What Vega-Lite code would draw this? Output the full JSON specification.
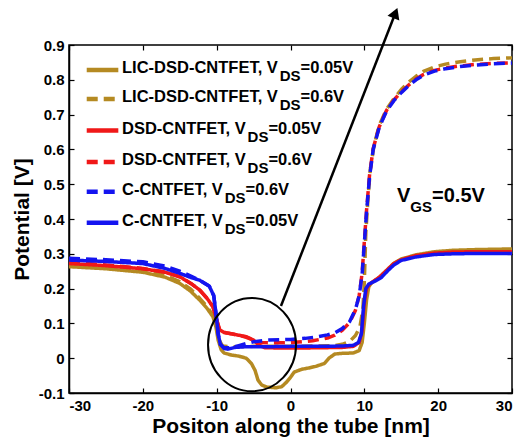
{
  "$schema": "https://vega.github.io/schema/vega-lite/v6.json",
  "width": 443,
  "height": 348,
  "autosize": {"type": "none"},
  "padding": {"left": 69, "top": 45, "right": 14, "bottom": 47},
  "background": "white",
  "config": {
    "font": "Liberation Sans",
    "view": {"stroke": "black", "strokeWidth": 1.5},
    "axis": {
      "labelFont": "Liberation Sans", "labelFontWeight": "bold", "labelFontSize": 15, "labelColor": "black",
      "domainColor": "black", "domainWidth": 1.5, "tickColor": "black", "tickWidth": 1.2, "tickSize": -5,
      "grid": false, "titleFont": "Liberation Sans", "titleFontWeight": "bold", "titleFontSize": 21, "titleColor": "black"
    }
  },
  "datasets": {
    "curves": [
      {"s":"a","device":"LIC-DSD-CNTFET","vds":"0.05","x":-30,"y":0.263},
      {"s":"a","device":"LIC-DSD-CNTFET","vds":"0.05","x":-25,"y":0.257},
      {"s":"a","device":"LIC-DSD-CNTFET","vds":"0.05","x":-20,"y":0.247},
      {"s":"a","device":"LIC-DSD-CNTFET","vds":"0.05","x":-17,"y":0.233},
      {"s":"a","device":"LIC-DSD-CNTFET","vds":"0.05","x":-15,"y":0.215},
      {"s":"a","device":"LIC-DSD-CNTFET","vds":"0.05","x":-13.5,"y":0.192},
      {"s":"a","device":"LIC-DSD-CNTFET","vds":"0.05","x":-12.3,"y":0.167},
      {"s":"a","device":"LIC-DSD-CNTFET","vds":"0.05","x":-11.3,"y":0.143},
      {"s":"a","device":"LIC-DSD-CNTFET","vds":"0.05","x":-10.5,"y":0.119},
      {"s":"a","device":"LIC-DSD-CNTFET","vds":"0.05","x":-10.1,"y":0.09},
      {"s":"a","device":"LIC-DSD-CNTFET","vds":"0.05","x":-9.8,"y":0.052},
      {"s":"a","device":"LIC-DSD-CNTFET","vds":"0.05","x":-9.4,"y":0.025},
      {"s":"a","device":"LIC-DSD-CNTFET","vds":"0.05","x":-9,"y":0.015},
      {"s":"a","device":"LIC-DSD-CNTFET","vds":"0.05","x":-8,"y":0.009},
      {"s":"a","device":"LIC-DSD-CNTFET","vds":"0.05","x":-7,"y":0.006},
      {"s":"a","device":"LIC-DSD-CNTFET","vds":"0.05","x":-6,"y":0.0},
      {"s":"a","device":"LIC-DSD-CNTFET","vds":"0.05","x":-5.3,"y":-0.015},
      {"s":"a","device":"LIC-DSD-CNTFET","vds":"0.05","x":-4.8,"y":-0.035},
      {"s":"a","device":"LIC-DSD-CNTFET","vds":"0.05","x":-4.4,"y":-0.063},
      {"s":"a","device":"LIC-DSD-CNTFET","vds":"0.05","x":-3.9,"y":-0.077},
      {"s":"a","device":"LIC-DSD-CNTFET","vds":"0.05","x":-3.2,"y":-0.083},
      {"s":"a","device":"LIC-DSD-CNTFET","vds":"0.05","x":-2,"y":-0.085},
      {"s":"a","device":"LIC-DSD-CNTFET","vds":"0.05","x":-1.2,"y":-0.082},
      {"s":"a","device":"LIC-DSD-CNTFET","vds":"0.05","x":-0.5,"y":-0.068},
      {"s":"a","device":"LIC-DSD-CNTFET","vds":"0.05","x":0,"y":-0.055},
      {"s":"a","device":"LIC-DSD-CNTFET","vds":"0.05","x":0.5,"y":-0.04},
      {"s":"a","device":"LIC-DSD-CNTFET","vds":"0.05","x":1.5,"y":-0.032},
      {"s":"a","device":"LIC-DSD-CNTFET","vds":"0.05","x":2.5,"y":-0.028},
      {"s":"a","device":"LIC-DSD-CNTFET","vds":"0.05","x":3.5,"y":-0.023},
      {"s":"a","device":"LIC-DSD-CNTFET","vds":"0.05","x":4.6,"y":-0.015},
      {"s":"a","device":"LIC-DSD-CNTFET","vds":"0.05","x":5.2,"y":0.0},
      {"s":"a","device":"LIC-DSD-CNTFET","vds":"0.05","x":6,"y":0.012},
      {"s":"a","device":"LIC-DSD-CNTFET","vds":"0.05","x":7,"y":0.014},
      {"s":"a","device":"LIC-DSD-CNTFET","vds":"0.05","x":8.5,"y":0.015},
      {"s":"a","device":"LIC-DSD-CNTFET","vds":"0.05","x":9.3,"y":0.022},
      {"s":"a","device":"LIC-DSD-CNTFET","vds":"0.05","x":9.7,"y":0.045},
      {"s":"a","device":"LIC-DSD-CNTFET","vds":"0.05","x":10,"y":0.1},
      {"s":"a","device":"LIC-DSD-CNTFET","vds":"0.05","x":10.3,"y":0.167},
      {"s":"a","device":"LIC-DSD-CNTFET","vds":"0.05","x":10.6,"y":0.205},
      {"s":"a","device":"LIC-DSD-CNTFET","vds":"0.05","x":11,"y":0.217},
      {"s":"a","device":"LIC-DSD-CNTFET","vds":"0.05","x":12,"y":0.232},
      {"s":"a","device":"LIC-DSD-CNTFET","vds":"0.05","x":13,"y":0.252},
      {"s":"a","device":"LIC-DSD-CNTFET","vds":"0.05","x":14,"y":0.273},
      {"s":"a","device":"LIC-DSD-CNTFET","vds":"0.05","x":15,"y":0.285},
      {"s":"a","device":"LIC-DSD-CNTFET","vds":"0.05","x":17,"y":0.297},
      {"s":"a","device":"LIC-DSD-CNTFET","vds":"0.05","x":19.5,"y":0.306},
      {"s":"a","device":"LIC-DSD-CNTFET","vds":"0.05","x":22,"y":0.31},
      {"s":"a","device":"LIC-DSD-CNTFET","vds":"0.05","x":25,"y":0.312},
      {"s":"a","device":"LIC-DSD-CNTFET","vds":"0.05","x":30,"y":0.314},

      {"s":"b","device":"LIC-DSD-CNTFET","vds":"0.6","x":-30,"y":0.268},
      {"s":"b","device":"LIC-DSD-CNTFET","vds":"0.6","x":-25,"y":0.262},
      {"s":"b","device":"LIC-DSD-CNTFET","vds":"0.6","x":-20,"y":0.252},
      {"s":"b","device":"LIC-DSD-CNTFET","vds":"0.6","x":-17,"y":0.238},
      {"s":"b","device":"LIC-DSD-CNTFET","vds":"0.6","x":-15,"y":0.22},
      {"s":"b","device":"LIC-DSD-CNTFET","vds":"0.6","x":-13.5,"y":0.198},
      {"s":"b","device":"LIC-DSD-CNTFET","vds":"0.6","x":-12.3,"y":0.172},
      {"s":"b","device":"LIC-DSD-CNTFET","vds":"0.6","x":-11.3,"y":0.148},
      {"s":"b","device":"LIC-DSD-CNTFET","vds":"0.6","x":-10.5,"y":0.123},
      {"s":"b","device":"LIC-DSD-CNTFET","vds":"0.6","x":-10,"y":0.1},
      {"s":"b","device":"LIC-DSD-CNTFET","vds":"0.6","x":-9.6,"y":0.05},
      {"s":"b","device":"LIC-DSD-CNTFET","vds":"0.6","x":-9.2,"y":0.035},
      {"s":"b","device":"LIC-DSD-CNTFET","vds":"0.6","x":-8,"y":0.033},
      {"s":"b","device":"LIC-DSD-CNTFET","vds":"0.6","x":-5,"y":0.034},
      {"s":"b","device":"LIC-DSD-CNTFET","vds":"0.6","x":0,"y":0.034},
      {"s":"b","device":"LIC-DSD-CNTFET","vds":"0.6","x":3,"y":0.035},
      {"s":"b","device":"LIC-DSD-CNTFET","vds":"0.6","x":6,"y":0.036},
      {"s":"b","device":"LIC-DSD-CNTFET","vds":"0.6","x":7,"y":0.04},
      {"s":"b","device":"LIC-DSD-CNTFET","vds":"0.6","x":8,"y":0.048},
      {"s":"b","device":"LIC-DSD-CNTFET","vds":"0.6","x":8.8,"y":0.065},
      {"s":"b","device":"LIC-DSD-CNTFET","vds":"0.6","x":9.4,"y":0.09},
      {"s":"b","device":"LIC-DSD-CNTFET","vds":"0.6","x":9.8,"y":0.14},
      {"s":"b","device":"LIC-DSD-CNTFET","vds":"0.6","x":10,"y":0.22},
      {"s":"b","device":"LIC-DSD-CNTFET","vds":"0.6","x":10.2,"y":0.36},
      {"s":"b","device":"LIC-DSD-CNTFET","vds":"0.6","x":10.5,"y":0.46},
      {"s":"b","device":"LIC-DSD-CNTFET","vds":"0.6","x":10.8,"y":0.54},
      {"s":"b","device":"LIC-DSD-CNTFET","vds":"0.6","x":11.3,"y":0.61},
      {"s":"b","device":"LIC-DSD-CNTFET","vds":"0.6","x":12,"y":0.668},
      {"s":"b","device":"LIC-DSD-CNTFET","vds":"0.6","x":13,"y":0.715},
      {"s":"b","device":"LIC-DSD-CNTFET","vds":"0.6","x":14,"y":0.746},
      {"s":"b","device":"LIC-DSD-CNTFET","vds":"0.6","x":15,"y":0.772},
      {"s":"b","device":"LIC-DSD-CNTFET","vds":"0.6","x":16,"y":0.793},
      {"s":"b","device":"LIC-DSD-CNTFET","vds":"0.6","x":17,"y":0.81},
      {"s":"b","device":"LIC-DSD-CNTFET","vds":"0.6","x":18,"y":0.824},
      {"s":"b","device":"LIC-DSD-CNTFET","vds":"0.6","x":19.5,"y":0.837},
      {"s":"b","device":"LIC-DSD-CNTFET","vds":"0.6","x":21,"y":0.845},
      {"s":"b","device":"LIC-DSD-CNTFET","vds":"0.6","x":23,"y":0.852},
      {"s":"b","device":"LIC-DSD-CNTFET","vds":"0.6","x":25,"y":0.857},
      {"s":"b","device":"LIC-DSD-CNTFET","vds":"0.6","x":27.5,"y":0.861},
      {"s":"b","device":"LIC-DSD-CNTFET","vds":"0.6","x":30,"y":0.863},

      {"s":"c","device":"DSD-CNTFET","vds":"0.05","x":-30,"y":0.272},
      {"s":"c","device":"DSD-CNTFET","vds":"0.05","x":-25,"y":0.266},
      {"s":"c","device":"DSD-CNTFET","vds":"0.05","x":-20,"y":0.257},
      {"s":"c","device":"DSD-CNTFET","vds":"0.05","x":-17,"y":0.247},
      {"s":"c","device":"DSD-CNTFET","vds":"0.05","x":-15,"y":0.234},
      {"s":"c","device":"DSD-CNTFET","vds":"0.05","x":-13.5,"y":0.215},
      {"s":"c","device":"DSD-CNTFET","vds":"0.05","x":-12.3,"y":0.196},
      {"s":"c","device":"DSD-CNTFET","vds":"0.05","x":-11.3,"y":0.172},
      {"s":"c","device":"DSD-CNTFET","vds":"0.05","x":-10.5,"y":0.148},
      {"s":"c","device":"DSD-CNTFET","vds":"0.05","x":-10,"y":0.11},
      {"s":"c","device":"DSD-CNTFET","vds":"0.05","x":-9.6,"y":0.082},
      {"s":"c","device":"DSD-CNTFET","vds":"0.05","x":-9,"y":0.074},
      {"s":"c","device":"DSD-CNTFET","vds":"0.05","x":-8,"y":0.07},
      {"s":"c","device":"DSD-CNTFET","vds":"0.05","x":-7,"y":0.066},
      {"s":"c","device":"DSD-CNTFET","vds":"0.05","x":-6,"y":0.062},
      {"s":"c","device":"DSD-CNTFET","vds":"0.05","x":-5,"y":0.052},
      {"s":"c","device":"DSD-CNTFET","vds":"0.05","x":-4.3,"y":0.038},
      {"s":"c","device":"DSD-CNTFET","vds":"0.05","x":-3.5,"y":0.03},
      {"s":"c","device":"DSD-CNTFET","vds":"0.05","x":0,"y":0.029},
      {"s":"c","device":"DSD-CNTFET","vds":"0.05","x":4,"y":0.03},
      {"s":"c","device":"DSD-CNTFET","vds":"0.05","x":7,"y":0.031},
      {"s":"c","device":"DSD-CNTFET","vds":"0.05","x":8.5,"y":0.034},
      {"s":"c","device":"DSD-CNTFET","vds":"0.05","x":9.3,"y":0.045},
      {"s":"c","device":"DSD-CNTFET","vds":"0.05","x":9.7,"y":0.08},
      {"s":"c","device":"DSD-CNTFET","vds":"0.05","x":10,"y":0.16},
      {"s":"c","device":"DSD-CNTFET","vds":"0.05","x":10.3,"y":0.2},
      {"s":"c","device":"DSD-CNTFET","vds":"0.05","x":10.7,"y":0.213},
      {"s":"c","device":"DSD-CNTFET","vds":"0.05","x":12,"y":0.232},
      {"s":"c","device":"DSD-CNTFET","vds":"0.05","x":13,"y":0.252},
      {"s":"c","device":"DSD-CNTFET","vds":"0.05","x":14,"y":0.272},
      {"s":"c","device":"DSD-CNTFET","vds":"0.05","x":15,"y":0.283},
      {"s":"c","device":"DSD-CNTFET","vds":"0.05","x":17,"y":0.295},
      {"s":"c","device":"DSD-CNTFET","vds":"0.05","x":19.5,"y":0.302},
      {"s":"c","device":"DSD-CNTFET","vds":"0.05","x":22,"y":0.305},
      {"s":"c","device":"DSD-CNTFET","vds":"0.05","x":25,"y":0.306},
      {"s":"c","device":"DSD-CNTFET","vds":"0.05","x":30,"y":0.306},

      {"s":"d","device":"DSD-CNTFET","vds":"0.6","x":-30,"y":0.275},
      {"s":"d","device":"DSD-CNTFET","vds":"0.6","x":-25,"y":0.268},
      {"s":"d","device":"DSD-CNTFET","vds":"0.6","x":-20,"y":0.258},
      {"s":"d","device":"DSD-CNTFET","vds":"0.6","x":-17,"y":0.248},
      {"s":"d","device":"DSD-CNTFET","vds":"0.6","x":-15,"y":0.234},
      {"s":"d","device":"DSD-CNTFET","vds":"0.6","x":-13.5,"y":0.215},
      {"s":"d","device":"DSD-CNTFET","vds":"0.6","x":-12.3,"y":0.196},
      {"s":"d","device":"DSD-CNTFET","vds":"0.6","x":-11.3,"y":0.172},
      {"s":"d","device":"DSD-CNTFET","vds":"0.6","x":-10.5,"y":0.148},
      {"s":"d","device":"DSD-CNTFET","vds":"0.6","x":-10,"y":0.11},
      {"s":"d","device":"DSD-CNTFET","vds":"0.6","x":-9.6,"y":0.082},
      {"s":"d","device":"DSD-CNTFET","vds":"0.6","x":-9,"y":0.074},
      {"s":"d","device":"DSD-CNTFET","vds":"0.6","x":-8,"y":0.07},
      {"s":"d","device":"DSD-CNTFET","vds":"0.6","x":-7,"y":0.066},
      {"s":"d","device":"DSD-CNTFET","vds":"0.6","x":-6,"y":0.06},
      {"s":"d","device":"DSD-CNTFET","vds":"0.6","x":-5,"y":0.052},
      {"s":"d","device":"DSD-CNTFET","vds":"0.6","x":-4.3,"y":0.045},
      {"s":"d","device":"DSD-CNTFET","vds":"0.6","x":-3,"y":0.044},
      {"s":"d","device":"DSD-CNTFET","vds":"0.6","x":0,"y":0.045},
      {"s":"d","device":"DSD-CNTFET","vds":"0.6","x":3,"y":0.05},
      {"s":"d","device":"DSD-CNTFET","vds":"0.6","x":5,"y":0.058},
      {"s":"d","device":"DSD-CNTFET","vds":"0.6","x":6,"y":0.066},
      {"s":"d","device":"DSD-CNTFET","vds":"0.6","x":7,"y":0.08},
      {"s":"d","device":"DSD-CNTFET","vds":"0.6","x":8,"y":0.102},
      {"s":"d","device":"DSD-CNTFET","vds":"0.6","x":8.8,"y":0.138},
      {"s":"d","device":"DSD-CNTFET","vds":"0.6","x":9.3,"y":0.18},
      {"s":"d","device":"DSD-CNTFET","vds":"0.6","x":9.7,"y":0.245},
      {"s":"d","device":"DSD-CNTFET","vds":"0.6","x":10,"y":0.335},
      {"s":"d","device":"DSD-CNTFET","vds":"0.6","x":10.3,"y":0.425},
      {"s":"d","device":"DSD-CNTFET","vds":"0.6","x":10.7,"y":0.525},
      {"s":"d","device":"DSD-CNTFET","vds":"0.6","x":11.2,"y":0.603},
      {"s":"d","device":"DSD-CNTFET","vds":"0.6","x":12,"y":0.664},
      {"s":"d","device":"DSD-CNTFET","vds":"0.6","x":13,"y":0.712},
      {"s":"d","device":"DSD-CNTFET","vds":"0.6","x":14,"y":0.742},
      {"s":"d","device":"DSD-CNTFET","vds":"0.6","x":15,"y":0.765},
      {"s":"d","device":"DSD-CNTFET","vds":"0.6","x":16,"y":0.785},
      {"s":"d","device":"DSD-CNTFET","vds":"0.6","x":17,"y":0.802},
      {"s":"d","device":"DSD-CNTFET","vds":"0.6","x":18,"y":0.815},
      {"s":"d","device":"DSD-CNTFET","vds":"0.6","x":19.5,"y":0.827},
      {"s":"d","device":"DSD-CNTFET","vds":"0.6","x":21,"y":0.834},
      {"s":"d","device":"DSD-CNTFET","vds":"0.6","x":23,"y":0.84},
      {"s":"d","device":"DSD-CNTFET","vds":"0.6","x":25,"y":0.844},
      {"s":"d","device":"DSD-CNTFET","vds":"0.6","x":27.5,"y":0.847},
      {"s":"d","device":"DSD-CNTFET","vds":"0.6","x":30,"y":0.849},

      {"s":"e","device":"C-CNTFET","vds":"0.6","x":-30,"y":0.287},
      {"s":"e","device":"C-CNTFET","vds":"0.6","x":-25,"y":0.283},
      {"s":"e","device":"C-CNTFET","vds":"0.6","x":-20,"y":0.277},
      {"s":"e","device":"C-CNTFET","vds":"0.6","x":-17,"y":0.265},
      {"s":"e","device":"C-CNTFET","vds":"0.6","x":-15,"y":0.25},
      {"s":"e","device":"C-CNTFET","vds":"0.6","x":-13.5,"y":0.236},
      {"s":"e","device":"C-CNTFET","vds":"0.6","x":-12.3,"y":0.224},
      {"s":"e","device":"C-CNTFET","vds":"0.6","x":-11,"y":0.207},
      {"s":"e","device":"C-CNTFET","vds":"0.6","x":-10.4,"y":0.18},
      {"s":"e","device":"C-CNTFET","vds":"0.6","x":-10.1,"y":0.13},
      {"s":"e","device":"C-CNTFET","vds":"0.6","x":-9.8,"y":0.07},
      {"s":"e","device":"C-CNTFET","vds":"0.6","x":-9.5,"y":0.04},
      {"s":"e","device":"C-CNTFET","vds":"0.6","x":-9,"y":0.03},
      {"s":"e","device":"C-CNTFET","vds":"0.6","x":-8,"y":0.03},
      {"s":"e","device":"C-CNTFET","vds":"0.6","x":-7,"y":0.036},
      {"s":"e","device":"C-CNTFET","vds":"0.6","x":-6,"y":0.042},
      {"s":"e","device":"C-CNTFET","vds":"0.6","x":-5,"y":0.047},
      {"s":"e","device":"C-CNTFET","vds":"0.6","x":-3.2,"y":0.052},
      {"s":"e","device":"C-CNTFET","vds":"0.6","x":0,"y":0.054},
      {"s":"e","device":"C-CNTFET","vds":"0.6","x":2,"y":0.057},
      {"s":"e","device":"C-CNTFET","vds":"0.6","x":3.5,"y":0.061},
      {"s":"e","device":"C-CNTFET","vds":"0.6","x":5,"y":0.067},
      {"s":"e","device":"C-CNTFET","vds":"0.6","x":6,"y":0.073},
      {"s":"e","device":"C-CNTFET","vds":"0.6","x":7,"y":0.085},
      {"s":"e","device":"C-CNTFET","vds":"0.6","x":8,"y":0.105},
      {"s":"e","device":"C-CNTFET","vds":"0.6","x":8.8,"y":0.14},
      {"s":"e","device":"C-CNTFET","vds":"0.6","x":9.3,"y":0.18},
      {"s":"e","device":"C-CNTFET","vds":"0.6","x":9.7,"y":0.24},
      {"s":"e","device":"C-CNTFET","vds":"0.6","x":10,"y":0.33},
      {"s":"e","device":"C-CNTFET","vds":"0.6","x":10.3,"y":0.42},
      {"s":"e","device":"C-CNTFET","vds":"0.6","x":10.7,"y":0.52},
      {"s":"e","device":"C-CNTFET","vds":"0.6","x":11.2,"y":0.6},
      {"s":"e","device":"C-CNTFET","vds":"0.6","x":12,"y":0.662},
      {"s":"e","device":"C-CNTFET","vds":"0.6","x":13,"y":0.71},
      {"s":"e","device":"C-CNTFET","vds":"0.6","x":14,"y":0.74},
      {"s":"e","device":"C-CNTFET","vds":"0.6","x":15,"y":0.763},
      {"s":"e","device":"C-CNTFET","vds":"0.6","x":16,"y":0.783},
      {"s":"e","device":"C-CNTFET","vds":"0.6","x":17,"y":0.8},
      {"s":"e","device":"C-CNTFET","vds":"0.6","x":18,"y":0.813},
      {"s":"e","device":"C-CNTFET","vds":"0.6","x":19.5,"y":0.825},
      {"s":"e","device":"C-CNTFET","vds":"0.6","x":21,"y":0.832},
      {"s":"e","device":"C-CNTFET","vds":"0.6","x":23,"y":0.838},
      {"s":"e","device":"C-CNTFET","vds":"0.6","x":25,"y":0.842},
      {"s":"e","device":"C-CNTFET","vds":"0.6","x":27.5,"y":0.846},
      {"s":"e","device":"C-CNTFET","vds":"0.6","x":30,"y":0.848},

      {"s":"f","device":"C-CNTFET","vds":"0.05","x":-30,"y":0.282},
      {"s":"f","device":"C-CNTFET","vds":"0.05","x":-25,"y":0.278},
      {"s":"f","device":"C-CNTFET","vds":"0.05","x":-20,"y":0.272},
      {"s":"f","device":"C-CNTFET","vds":"0.05","x":-17,"y":0.258},
      {"s":"f","device":"C-CNTFET","vds":"0.05","x":-15,"y":0.244},
      {"s":"f","device":"C-CNTFET","vds":"0.05","x":-13.5,"y":0.232},
      {"s":"f","device":"C-CNTFET","vds":"0.05","x":-12.3,"y":0.224},
      {"s":"f","device":"C-CNTFET","vds":"0.05","x":-11,"y":0.207},
      {"s":"f","device":"C-CNTFET","vds":"0.05","x":-10.4,"y":0.18},
      {"s":"f","device":"C-CNTFET","vds":"0.05","x":-10.1,"y":0.13},
      {"s":"f","device":"C-CNTFET","vds":"0.05","x":-9.8,"y":0.07},
      {"s":"f","device":"C-CNTFET","vds":"0.05","x":-9.5,"y":0.04},
      {"s":"f","device":"C-CNTFET","vds":"0.05","x":-9,"y":0.028},
      {"s":"f","device":"C-CNTFET","vds":"0.05","x":-8.5,"y":0.026},
      {"s":"f","device":"C-CNTFET","vds":"0.05","x":-7.5,"y":0.031},
      {"s":"f","device":"C-CNTFET","vds":"0.05","x":-6,"y":0.033},
      {"s":"f","device":"C-CNTFET","vds":"0.05","x":-3,"y":0.033},
      {"s":"f","device":"C-CNTFET","vds":"0.05","x":0,"y":0.034},
      {"s":"f","device":"C-CNTFET","vds":"0.05","x":4,"y":0.034},
      {"s":"f","device":"C-CNTFET","vds":"0.05","x":7,"y":0.035},
      {"s":"f","device":"C-CNTFET","vds":"0.05","x":8.5,"y":0.037},
      {"s":"f","device":"C-CNTFET","vds":"0.05","x":9.2,"y":0.045},
      {"s":"f","device":"C-CNTFET","vds":"0.05","x":9.6,"y":0.07},
      {"s":"f","device":"C-CNTFET","vds":"0.05","x":9.9,"y":0.15},
      {"s":"f","device":"C-CNTFET","vds":"0.05","x":10.2,"y":0.2},
      {"s":"f","device":"C-CNTFET","vds":"0.05","x":10.6,"y":0.213},
      {"s":"f","device":"C-CNTFET","vds":"0.05","x":11.5,"y":0.222},
      {"s":"f","device":"C-CNTFET","vds":"0.05","x":12.3,"y":0.232},
      {"s":"f","device":"C-CNTFET","vds":"0.05","x":13.2,"y":0.252},
      {"s":"f","device":"C-CNTFET","vds":"0.05","x":14,"y":0.268},
      {"s":"f","device":"C-CNTFET","vds":"0.05","x":15,"y":0.281},
      {"s":"f","device":"C-CNTFET","vds":"0.05","x":17,"y":0.291},
      {"s":"f","device":"C-CNTFET","vds":"0.05","x":19.5,"y":0.298},
      {"s":"f","device":"C-CNTFET","vds":"0.05","x":22,"y":0.3},
      {"s":"f","device":"C-CNTFET","vds":"0.05","x":25,"y":0.301},
      {"s":"f","device":"C-CNTFET","vds":"0.05","x":30,"y":0.301}
    ],
    "legend": [
      {"device":"LIC-DSD-CNTFET","vds":"0.05","ly":0.828,"pre":"LIC-DSD-CNTFET, V","sub":"DS","suf":"=0.05V","xs":-1.46,"xe":1.36},
      {"device":"LIC-DSD-CNTFET","vds":"0.6","ly":0.745,"pre":"LIC-DSD-CNTFET, V","sub":"DS","suf":"=0.6V","xs":-1.46,"xe":1.36},
      {"device":"DSD-CNTFET","vds":"0.05","ly":0.654,"pre":"DSD-CNTFET, V","sub":"DS","suf":"=0.05V","xs":-5.81,"xe":-2.99},
      {"device":"DSD-CNTFET","vds":"0.6","ly":0.564,"pre":"DSD-CNTFET, V","sub":"DS","suf":"=0.6V","xs":-5.81,"xe":-2.99},
      {"device":"C-CNTFET","vds":"0.6","ly":0.478,"pre":"C-CNTFET, V","sub":"DS","suf":"=0.6V","xs":-8.91,"xe":-6.09},
      {"device":"C-CNTFET","vds":"0.05","ly":0.389,"pre":"C-CNTFET, V","sub":"DS","suf":"=0.05V","xs":-8.91,"xe":-6.09}
    ],
    "one": [{}]
  },
  "layer": [
    {
      "data": {"name": "curves"},
      "mark": {"type": "line", "strokeWidth": 3.5, "strokeCap": "butt", "strokeJoin": "round"},
      "encoding": {
        "x": {"field": "x", "type": "quantitative", "scale": {"domain": [-30, 30], "nice": false, "zero": false},
          "axis": {"orient": "bottom", "values": [-30, -20, -10, 0, 10, 20, 30], "title": "Positon along the tube [nm]",
            "labelExpr": "datum.value < 0 ? '-' + format(-datum.value, 'd') : format(datum.value, 'd')",
            "labelFontSize": 15, "labelPadding": 10, "titleY": 39, "titleBaseline": "alphabetic"}},
        "y": {"field": "y", "type": "quantitative", "scale": {"domain": [-0.1, 0.9], "nice": false, "zero": false},
          "axis": {"orient": "left", "values": [-0.1, 0, 0.1, 0.2, 0.3, 0.4, 0.5, 0.6, 0.7, 0.8, 0.9], "title": "Potential [V]",
            "labelExpr": "datum.value < 0 ? '-' + format(-datum.value, '.1~f') : format(datum.value, '.1~f')",
            "labelFontSize": 15, "labelPadding": 10, "titleX": -47, "titleY": 174, "titleAngle": -90, "titleAlign": "center", "titleBaseline": "middle"}},
        "color": {"field": "device", "type": "nominal", "scale": {"domain": ["LIC-DSD-CNTFET", "DSD-CNTFET", "C-CNTFET"], "range": ["#B58A22", "#F01818", "#1414F0"]}, "legend": null},
        "strokeDash": {"field": "vds", "type": "nominal", "scale": {"domain": ["0.05", "0.6"], "range": [[1, 0], [11, 6]]}, "legend": null},
        "detail": {"field": "s", "type": "nominal"}
      }
    },
    {
      "data": {"name": "legend"},
      "mark": {"type": "rule", "strokeWidth": 4.5, "strokeCap": "butt"},
      "encoding": {
        "x": {"datum": -27.6, "type": "quantitative", "axis": null},
        "x2": {"datum": -23.32},
        "y": {"field": "ly", "type": "quantitative", "axis": null},
        "color": {"field": "device", "type": "nominal", "legend": null},
        "strokeDash": {"field": "vds", "type": "nominal", "legend": null}
      }
    },
    {
      "data": {"name": "legend"},
      "mark": {"type": "text", "align": "left", "baseline": "middle", "dy": -2, "fontSize": 16.5, "fontWeight": "bold", "font": "Liberation Sans", "color": "black"},
      "encoding": {
        "x": {"datum": -22.82, "type": "quantitative", "axis": null},
        "y": {"field": "ly", "type": "quantitative", "axis": null},
        "text": {"field": "pre"}
      }
    },
    {
      "data": {"name": "legend"},
      "mark": {"type": "text", "align": "left", "baseline": "middle", "dy": 6, "fontSize": 15, "fontWeight": "bold", "font": "Liberation Sans", "color": "black"},
      "encoding": {
        "x": {"field": "xs", "type": "quantitative", "axis": null},
        "y": {"field": "ly", "type": "quantitative", "axis": null},
        "text": {"field": "sub"}
      }
    },
    {
      "data": {"name": "legend"},
      "mark": {"type": "text", "align": "left", "baseline": "middle", "dy": -2, "fontSize": 16.5, "fontWeight": "bold", "font": "Liberation Sans", "color": "black"},
      "encoding": {
        "x": {"field": "xe", "type": "quantitative", "axis": null},
        "y": {"field": "ly", "type": "quantitative", "axis": null},
        "text": {"field": "suf"}
      }
    },
    {
      "data": {"name": "one"},
      "mark": {"type": "text", "align": "left", "baseline": "middle", "fontSize": 20, "fontWeight": "bold", "font": "Liberation Sans", "color": "black"},
      "encoding": {
        "x": {"datum": 14.43, "type": "quantitative", "axis": null},
        "y": {"datum": 0.466, "type": "quantitative", "axis": null},
        "text": {"value": "V"}
      }
    },
    {
      "data": {"name": "one"},
      "mark": {"type": "text", "align": "left", "baseline": "middle", "dy": 11, "fontSize": 15, "fontWeight": "bold", "font": "Liberation Sans", "color": "black"},
      "encoding": {
        "x": {"datum": 16.23, "type": "quantitative", "axis": null},
        "y": {"datum": 0.466, "type": "quantitative", "axis": null},
        "text": {"value": "GS"}
      }
    },
    {
      "data": {"name": "one"},
      "mark": {"type": "text", "align": "left", "baseline": "middle", "fontSize": 20, "fontWeight": "bold", "font": "Liberation Sans", "color": "black"},
      "encoding": {
        "x": {"datum": 19.17, "type": "quantitative", "axis": null},
        "y": {"datum": 0.466, "type": "quantitative", "axis": null},
        "text": {"value": "=0.5V"}
      }
    },
    {
      "data": {"name": "one"},
      "mark": {"type": "rule", "strokeWidth": 2.5, "color": "black"},
      "encoding": {
        "x": {"datum": -1.29, "type": "quantitative", "axis": null},
        "y": {"datum": 0.15, "type": "quantitative", "axis": null},
        "x2": {"datum": 14.21},
        "y2": {"datum": 0.992}
      }
    },
    {
      "data": {"name": "one"},
      "mark": {"type": "point", "shape": "triangle-up", "filled": true, "color": "black", "opacity": 1, "size": 160, "angle": 21.4},
      "encoding": {
        "x": {"datum": 14.21, "type": "quantitative", "axis": null},
        "y": {"datum": 0.992, "type": "quantitative", "axis": null}
      }
    },
    {
      "data": {"name": "one"},
      "mark": {"type": "point", "shape": "M-1,0A1,1.06,0,1,1,1,0A1,1.06,0,1,1,-1,0Z", "filled": false, "stroke": "black", "strokeWidth": 2, "opacity": 1, "size": 7744},
      "encoding": {
        "x": {"datum": -5.21, "type": "quantitative", "axis": {"orient": "top", "labels": false, "title": null, "domain": false, "values": [-30, -20, -10, 0, 10, 20, 30]}},
        "y": {"datum": 0.039, "type": "quantitative", "axis": {"orient": "right", "labels": false, "title": null, "domain": false, "values": [-0.1, 0, 0.1, 0.2, 0.3, 0.4, 0.5, 0.6, 0.7, 0.8, 0.9]}}
      }
    }
  ],
  "resolve": {"axis": {"x": "independent", "y": "independent"}}
}
